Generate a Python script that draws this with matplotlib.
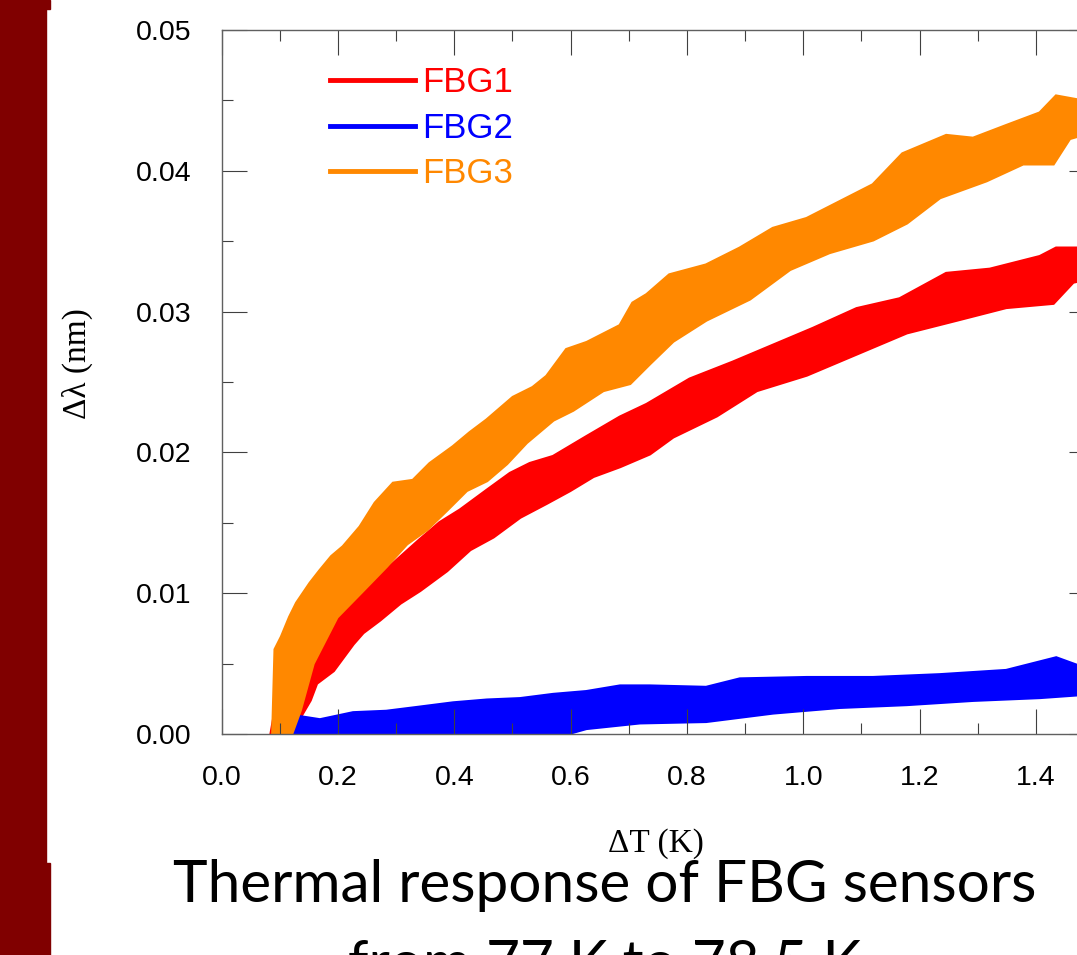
import numpy as np
import matplotlib.pyplot as plt
from matplotlib.lines import Line2D
from matplotlib.patches import Rectangle

# FBG thermal response (band envelopes, x = dT in K, y = dlambda in nm)
fbg1_up_x = [0.085, 0.100, 0.157, 0.198, 0.243, 0.295, 0.341, 0.375, 0.410, 0.456, 0.496, 0.530, 0.570,
             0.627, 0.685, 0.731, 0.805, 0.879, 0.948, 1.017, 1.092, 1.166, 1.246, 1.321, 1.407, 1.435, 1.475]
fbg1_up_y = [0.0, 0.0035, 0.0060, 0.0083, 0.0102, 0.0121, 0.0138, 0.0150, 0.0159, 0.0173, 0.0185, 0.0192, 0.0197,
             0.0211, 0.0225, 0.0234, 0.0252, 0.0264, 0.0276, 0.0288, 0.0302, 0.0309, 0.0327, 0.0330, 0.0339, 0.0345, 0.0345]
fbg1_lo_x = [0.120, 0.135, 0.152, 0.163, 0.192, 0.226, 0.243, 0.272, 0.307, 0.341, 0.387, 0.427, 0.467, 0.513,
             0.559, 0.599, 0.639, 0.685, 0.736, 0.776, 0.851, 0.920, 1.006, 1.092, 1.178, 1.264, 1.349, 1.430, 1.464, 1.475]
fbg1_lo_y = [0.0, 0.0012, 0.0024, 0.0036, 0.0045, 0.0064, 0.0072, 0.0081, 0.0093, 0.0102, 0.0116, 0.0131, 0.0140, 0.0154,
             0.0164, 0.0173, 0.0183, 0.0190, 0.0199, 0.0211, 0.0226, 0.0244, 0.0255, 0.0270, 0.0285, 0.0294, 0.0303, 0.0306, 0.0321, 0.0322]

fbg2_up_x = [0.118, 0.122, 0.169, 0.226, 0.283, 0.341, 0.398, 0.456, 0.513, 0.570, 0.627, 0.685, 0.736,
             0.833, 0.891, 1.006, 1.120, 1.235, 1.349, 1.435, 1.475]
fbg2_up_y = [0.0, 0.0013, 0.0010, 0.0015, 0.0016, 0.0019, 0.0022, 0.0024, 0.0025, 0.0028, 0.0030, 0.0034, 0.0034,
             0.0033, 0.0039, 0.0040, 0.0040, 0.0042, 0.0045, 0.0054, 0.0048]
fbg2_lo_x = [0.118, 0.550, 0.627, 0.719, 0.833, 0.948, 1.063, 1.178, 1.292, 1.407, 1.475]
fbg2_lo_y = [-0.001, -0.0005, 0.0004, 0.0008, 0.0009, 0.0015, 0.0019, 0.0021, 0.0024, 0.0026, 0.0028]

fbg3_up_x = [0.088, 0.092, 0.103, 0.117, 0.129, 0.152, 0.169, 0.189, 0.209, 0.238, 0.264, 0.295, 0.329, 0.358,
             0.398, 0.427, 0.456, 0.501, 0.535, 0.559, 0.593, 0.628, 0.685, 0.707, 0.731, 0.770, 0.833, 0.891,
             0.948, 1.006, 1.063, 1.120, 1.171, 1.246, 1.292, 1.349, 1.407, 1.435, 1.475]
fbg3_up_y = [0.0, 0.0060, 0.0069, 0.0083, 0.0093, 0.0107, 0.0116, 0.0126, 0.0133, 0.0147, 0.0164, 0.0178, 0.0180, 0.0192,
             0.0204, 0.0214, 0.0223, 0.0239, 0.0246, 0.0254, 0.0273, 0.0278, 0.0290, 0.0306, 0.0312, 0.0326, 0.0333, 0.0345,
             0.0359, 0.0366, 0.0378, 0.0390, 0.0412, 0.0425, 0.0423, 0.0432, 0.0441, 0.0453, 0.0450]
fbg3_lo_x = [0.120, 0.135, 0.157, 0.198, 0.243, 0.283, 0.318, 0.352, 0.387, 0.421, 0.456, 0.490, 0.524, 0.570,
             0.604, 0.656, 0.702, 0.736, 0.776, 0.833, 0.908, 0.977, 1.045, 1.120, 1.178, 1.235, 1.315, 1.378,
             1.430, 1.458, 1.475]
fbg3_lo_y = [0.0, 0.0017, 0.0050, 0.0083, 0.0102, 0.0119, 0.0135, 0.0145, 0.0159, 0.0173, 0.0180, 0.0192, 0.0207, 0.0223,
             0.0230, 0.0244, 0.0249, 0.0263, 0.0279, 0.0294, 0.0309, 0.0330, 0.0342, 0.0351, 0.0363, 0.0381, 0.0393, 0.0405,
             0.0405, 0.0423, 0.0425]

labels = ['FBG1', 'FBG2', 'FBG3']
colors = ['#ff0000', '#0000ff', '#ff8800']

bands = [(fbg1_up_x, fbg1_up_y, fbg1_lo_x, fbg1_lo_y),
         (fbg2_up_x, fbg2_up_y, fbg2_lo_x, fbg2_lo_y),
         (fbg3_up_x, fbg3_up_y, fbg3_lo_x, fbg3_lo_y)]

fig = plt.figure(figsize=(10.77, 9.55), dpi=100)
fig.patch.set_facecolor('white')

# slide background strip on the left
fig.patches.append(Rectangle((0, 0), 46/1077, 1, transform=fig.transFigure, color='#800000', zorder=0))
fig.patches.append(Rectangle((0, 0), 50/1077, 92/955, transform=fig.transFigure, color='#800000', zorder=0))
fig.patches.append(Rectangle((0, 946/955), 50/1077, 9/955, transform=fig.transFigure, color='#800000', zorder=0))

ax = fig.add_axes([221.7/1077, 221/955, 872.3/1077, 704/955])

for (ux, uy, lx, ly), c in zip(bands, colors):
    px = np.concatenate([ux, lx[::-1]])
    py = np.concatenate([uy, ly[::-1]])
    ax.fill(px, py, color=c, lw=2.5, ec=c)

ax.set_xlim(0, 1.5)
ax.set_ylim(0, 0.05)
ax.set_xticks(np.arange(0, 1.41, 0.2))
ax.set_xticks(np.arange(0.1, 1.5, 0.2), minor=True)
ax.set_yticks(np.arange(0, 0.051, 0.01))
ax.set_yticks(np.arange(0.005, 0.05, 0.01), minor=True)
ax.xaxis.set_major_formatter(plt.FuncFormatter(lambda v, p: f'{v:.1f}'))
ax.yaxis.set_major_formatter(plt.FuncFormatter(lambda v, p: f'{v:.2f}'))

for s in ax.spines.values():
    s.set_color('#606060')
    s.set_linewidth(1.0)
ax.tick_params(which='both', direction='in', top=True, right=True, color='#404040', width=0.8,
               labelsize=20.5, pad=22, labelfontfamily='Liberation Sans')
ax.tick_params(which='major', length=18)
ax.tick_params(which='minor', length=8)

ax.set_xlabel('ΔT (K)', family='Liberation Serif', fontsize=24, va='top')
ax.xaxis.set_label_coords(0.498, -0.134)
ax.set_ylabel('Δλ (nm)', family='Liberation Serif', fontsize=24)
ax.yaxis.set_label_coords(-0.1475, 0.526)

handles = [Line2D([], [], color=c, lw=3.5) for c in colors]
leg = ax.legend(handles, labels, loc='upper left', bbox_to_anchor=(0.108, 0.968), frameon=False,
                handlelength=2.45, handletextpad=0.2, labelspacing=0.36, borderaxespad=0,
                prop={'family': 'Liberation Sans', 'size': 25}, labelcolor='linecolor')

fig.text(605/1077, 1 - 902/955, 'Thermal response of FBG sensors', family='Lato', fontsize=42.1,
         ha='center', va='baseline')
fig.text(605/1077, 1 - 982/955, 'from 77 K to 78.5 K', family='Lato', fontsize=42.1,
         ha='center', va='baseline')

fig.savefig('out.png', dpi=100)
